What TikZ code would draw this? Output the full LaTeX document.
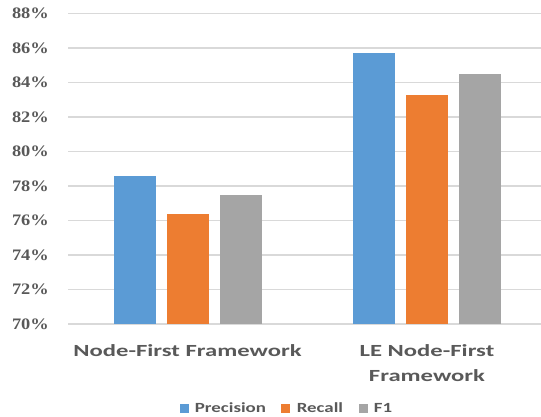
\documentclass[tikz,border=0pt]{standalone}
\usepackage{fontspec}
\newfontfamily\lblfont{Carlito}
\newfontfamily\pctfont{Liberation Serif}
\usetikzlibrary{positioning}
\definecolor{precblue}{HTML}{5B9BD5}
\definecolor{recorange}{HTML}{ED7D31}
\definecolor{fgray}{HTML}{A5A5A5}
\definecolor{gridgray}{HTML}{D9D9D9}
\definecolor{txtgray}{HTML}{595959}
\newcommand{\wide}[2]{\scalebox{#1}[1]{#2}}

\begin{document}
\begin{tikzpicture}[x=1pt,y=-1pt,
  gridline/.style={draw=gridgray,line width=1.5pt},
  pct/.style={anchor=east,inner sep=0pt,text=txtgray,font=\pctfont\bfseries\fontsize{16}{18}\selectfont},
  cat/.style={inner sep=0pt,text=txtgray,align=center,font=\lblfont\bfseries\fontsize{17}{25}\selectfont},
  key/.style={minimum size=9pt,inner sep=0pt},
  keytext/.style={inner sep=0pt,text=txtgray,font=\lblfont\bfseries\fontsize{14}{16}\selectfont}]
\useasboundingbox (0,0) rectangle (541,416);
% gridlines and axis labels
\foreach \p in {70,72,...,88}{
  \draw[gridline] (68,{324-17.25*(\p-70)}) -- (541,{324-17.25*(\p-70)});
  \node[pct] at (49,{324-17.25*(\p-70)}) {\wide{1.15}{\p\%}};
}
% bars
\foreach \x/\v/\c in {114/78.6/precblue,166.7/76.4/recorange,220/77.5/fgray,
                      353.3/85.7/precblue,406/83.3/recorange,459.3/84.5/fgray}
  \fill[\c] (\x,324) rectangle ({\x+42},{324-17.25*(\v-70)});
% categories
\node[cat] (nf) at (187.5,351) {\wide{1.45}{Node-First Framework}};
\node[cat] (lenf) at (427,363) {\wide{1.45}{LE Node-First}\\\wide{1.45}{Framework}};
% legend
\node[key,fill=precblue] (kprec) at (184,408) {};
\node[keytext,right=6pt of kprec] (tprec) {\wide{1.35}{Precision}};
\node[key,fill=recorange,right=15pt of tprec] (krec) {};
\node[keytext,right=6pt of krec] (trec) {\wide{1.35}{Recall}};
\node[key,fill=fgray,right=15pt of trec] (kf) {};
\node[keytext,right=6pt of kf] (tf) {\wide{1.35}{F1}};
\end{tikzpicture}
\end{document}
